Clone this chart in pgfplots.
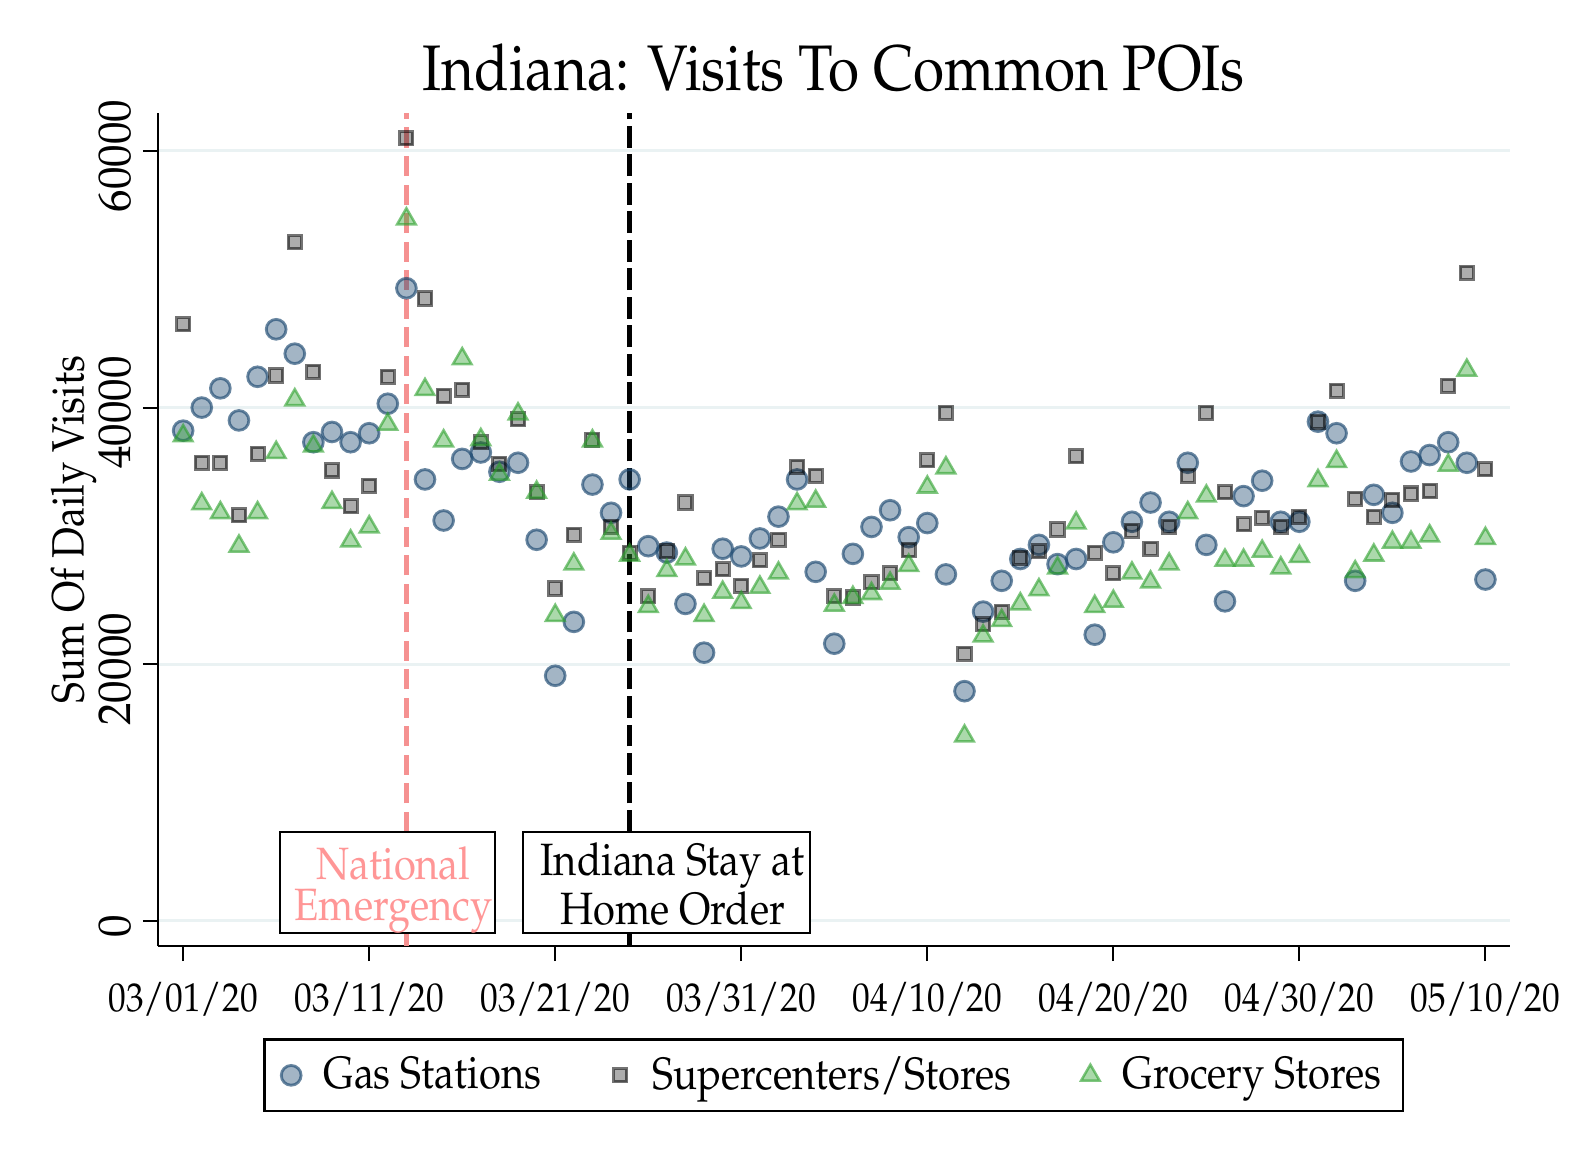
\documentclass[border=0pt]{standalone}
\usepackage[T1]{fontenc}
\usepackage{mathpazo}
\usepackage{graphicx}
\usepackage{pgfplots}
\usepackage{pgfplotstable}
\pgfplotsset{compat=1.18}
\newcommand{\cond}[1]{\scalebox{0.88}[1]{#1}}
\newcommand{\condy}[1]{\scalebox{0.98}[1]{#1}}
\definecolor{gridc}{RGB}{234,242,243}
\definecolor{navyc}{RGB}{26,71,111}
\definecolor{grnc}{RGB}{44,160,44}
\definecolor{redl}{RGB}{245,145,145}
\definecolor{redt}{RGB}{255,150,150}

\pgfplotstableread{
d gas sup gro
0 38200 46500 37800
1 40000 35700 32500
2 41500 35700 31800
3 39000 31600 29200
4 42400 36400 31800
5 46100 42500 36500
6 44200 52900 40600
7 37300 42800 37000
8 38100 35100 32600
9 37300 32300 29600
10 38000 33900 30700
11 40300 42400 38700
12 49300 61000 54700
13 34400 48500 41400
14 31200 40900 37400
15 36000 41400 43800
16 36500 37300 37500
17 35000 35600 34800
18 35700 39100 39500
19 29700 33400 33400
20 19100 25900 23800
21 23300 30100 27800
22 34000 37500 37400
23 31800 30700 30200
24 34400 28700 28500
25 29200 25300 24500
26 28700 28800 27300
27 24700 32600 28200
28 20900 26700 23800
29 29000 27400 25600
30 28400 26100 24800
31 29800 28100 26000
32 31500 29700 27100
33 34400 35400 32500
34 27200 34700 32700
35 21600 25300 24600
36 28600 25200 25200
37 30700 26400 25500
38 32000 27100 26300
39 29900 28900 27700
40 31000 35900 33800
41 27000 39600 35300
42 17900 20800 14400
43 24100 23100 22200
44 26500 24100 23400
45 28200 28300 24700
46 29300 28800 25800
47 27800 30500 27500
48 28200 36200 31000
49 22300 28700 24500
50 29500 27100 24900
51 31100 30400 27100
52 32600 29000 26400
53 31100 30700 27800
54 35700 34700 31800
55 29300 39600 33100
56 24900 33400 28100
57 33100 30900 28100
58 34300 31400 28800
59 31100 30700 27500
60 31100 31500 28400
61 38900 38900 34300
62 38000 41300 35800
63 26500 32900 27200
64 33200 31500 28500
65 31800 32800 29500
66 35800 33300 29500
67 36300 33500 30000
68 37300 41700 35500
69 35700 50500 42900
70 26600 35200 29800
}\data

\begin{document}
\begin{tikzpicture}
\begin{axis}[
  scale only axis, width=402.9pt, height=248.4pt,
  xmin=-1.352, xmax=71.30, ymin=-1961, ymax=62980,
  scaled y ticks=false, scaled x ticks=false,
  axis lines=left, axis line style={-, line width=0.7pt, black},
  xtick={0,10,20,30,40,50,60,70},
  xticklabels={{\cond{03/01/20}},{\cond{03/11/20}},{\cond{03/21/20}},{\cond{03/31/20}},{\cond{04/10/20}},{\cond{04/20/20}},{\cond{04/30/20}},{\cond{05/10/20}}},
  ytick={0,20000,40000,60000},
  yticklabels={{\condy{0}},{\condy{20000}},{\condy{40000}},{\condy{60000}}},
  tick align=outside, major tick length=4.5pt,
  tick style={line width=0.6pt, black},
  ymajorgrids, grid style={gridc, line width=0.9pt},
  xticklabel style={font=\fontsize{12}{14}\selectfont, yshift=-2.7pt},
  yticklabel style={font=\fontsize{13.7}{16}\selectfont, rotate=90, anchor=south, xshift=-1.5pt},
  ylabel={\cond{Sum Of Daily Visits}},
  ylabel style={font=\fontsize{13.5}{16}\selectfont, at={(axis description cs:-0.0625,0.5)}, anchor=center},
  title={\cond{Indiana: Visits To Common POIs}},
  title style={font=\fontsize{19.2}{22}\selectfont, at={(axis description cs:0.5,1)}, anchor=base, inner sep=0pt, yshift=0.6pt},
  legend style={at={(0.5,-0.111)}, anchor=north, legend columns=3, draw=black, line width=0.7pt,
    font=\fontsize{13.5}{16}\selectfont, inner xsep=4.5pt, inner ysep=3pt,
    /tikz/every odd column/.append style={column sep=4.2pt},
    /tikz/every even column/.append style={column sep=18.1pt}},
  legend image code/.code={\path (0cm,-0.1cm) (0.22cm,0.1cm); \draw[#1] plot coordinates {(0.11cm,0cm)};},
  clip=false,
]
\coordinate (O) at (rel axis cs:0,0);
\addplot[forget plot, redl, line width=1.4pt, dash pattern=on 6pt off 2.5pt] coordinates {(12,-1961) (12,62980)};
\addplot[forget plot, black, line width=1.5pt, dash pattern=on 6.5pt off 2pt] coordinates {(24,-1961) (24,62980)};
\addplot[only marks, mark=*, mark size=2.95pt,
  mark options={draw=navyc, fill=navyc, draw opacity=0.65, fill opacity=0.4, line width=0.85pt}]
  table[x=d, y=gas]{\data};
\addlegendentry{\cond{Gas Stations}}
\addplot[only marks, mark=square*, mark size=1.95pt,
  mark options={draw=black, fill=black, draw opacity=0.55, fill opacity=0.32, line width=0.9pt}]
  table[x=d, y=sup]{\data};
\addlegendentry{\cond{Supercenters/Stores}}
\addplot[only marks, mark=triangle*, mark size=3.2pt,
  mark options={draw=grnc, fill=grnc, draw opacity=0.6, fill opacity=0.4, line width=0.75pt}]
  table[x=d, y=gro]{\data};
\addlegendentry{\cond{Grocery Stores}}
\node[draw=black, line width=0.7pt, fill=white, minimum width=64.2pt, minimum height=30pt,
  inner sep=0pt] at (axis cs:10.98,2980) {};
\node[inner sep=0pt, align=center, text=redt, font=\fontsize{13.5}{12.3}\selectfont, xshift=1.8pt, yshift=-2.2pt]
  at (axis cs:10.98,2980) {\cond{National}\\\cond{Emergency}};
\node[draw=black, line width=0.7pt, fill=white, minimum width=85.5pt, minimum height=30pt,
  inner sep=0pt] at (axis cs:25.99,2980) {};
\node[inner sep=0pt, align=center, text=black, font=\fontsize{13.5}{12.3}\selectfont, xshift=1.8pt, yshift=-2.2pt]
  at (axis cs:25.99,2980) {\cond{Indiana Stay at}\\\cond{Home Order}\vphantom{gy}};
\end{axis}
\pgfresetboundingbox
\path[use as bounding box] ([shift={(-47.1pt,-63.6pt)}]O) rectangle ([shift={(423.3pt,282pt)}]O);
\end{tikzpicture}
\end{document}
